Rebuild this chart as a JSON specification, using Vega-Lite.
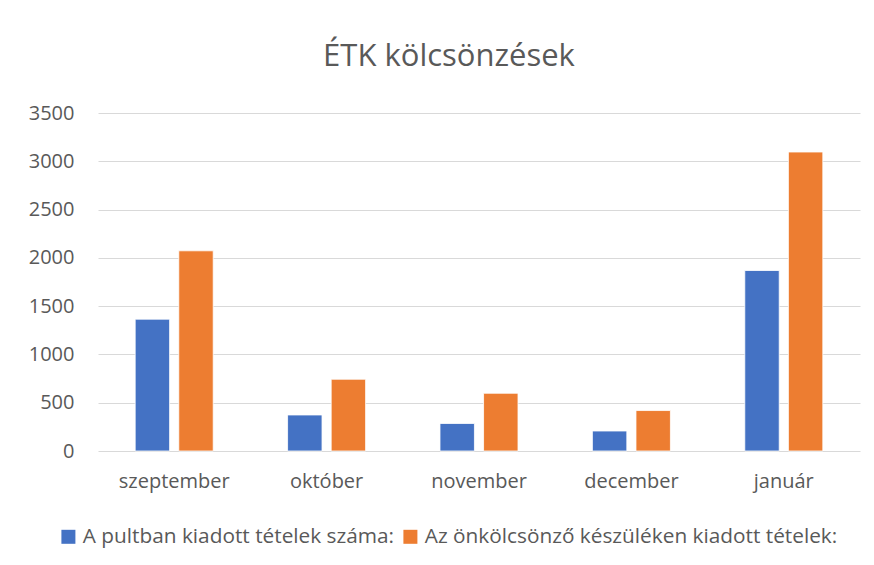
{
  "$schema": "https://vega.github.io/schema/vega-lite/v6.json",
  "width": 762,
  "height": 338,
  "autosize": {"type": "none"},
  "padding": {"left": 98, "top": 113, "right": 14, "bottom": 114},
  "background": "white",
  "title": {
    "text": "ÉTK kölcsönzések",
    "fontSize": 31,
    "font": "Open Sans",
    "fontWeight": "normal",
    "color": "#595959",
    "anchor": "middle",
    "dx": -30,
    "offset": 30
  },
  "data": {
    "values": [
      {"honap": "szeptember", "sorozat": "A pultban kiadott tételek száma:", "ertek": 1365},
      {"honap": "szeptember", "sorozat": "Az önkölcsönző készüléken kiadott tételek:", "ertek": 2073},
      {"honap": "október", "sorozat": "A pultban kiadott tételek száma:", "ertek": 373},
      {"honap": "október", "sorozat": "Az önkölcsönző készüléken kiadott tételek:", "ertek": 743},
      {"honap": "november", "sorozat": "A pultban kiadott tételek száma:", "ertek": 285},
      {"honap": "november", "sorozat": "Az önkölcsönző készüléken kiadott tételek:", "ertek": 598},
      {"honap": "december", "sorozat": "A pultban kiadott tételek száma:", "ertek": 207},
      {"honap": "december", "sorozat": "Az önkölcsönző készüléken kiadott tételek:", "ertek": 419},
      {"honap": "január", "sorozat": "A pultban kiadott tételek száma:", "ertek": 1869},
      {"honap": "január", "sorozat": "Az önkölcsönző készüléken kiadott tételek:", "ertek": 3096}
    ]
  },
  "mark": {"type": "bar", "stroke": "white", "strokeWidth": 0.8},
  "encoding": {
    "x": {
      "field": "honap",
      "type": "nominal",
      "sort": ["szeptember", "október", "november", "december", "január"],
      "scale": {"paddingInner": 0.488, "paddingOuter": 0.244},
      "axis": {
        "title": null,
        "labelAngle": 0,
        "labelFont": "Open Sans",
        "labelFontSize": 20,
        "labelColor": "#595959",
        "labelPadding": 20,
        "ticks": false,
        "domain": false
      }
    },
    "xOffset": {
      "field": "sorozat",
      "type": "nominal",
      "scale": {"paddingInner": 0.21, "paddingOuter": 0}
    },
    "y": {
      "field": "ertek",
      "type": "quantitative",
      "scale": {"domain": [0, 3500], "nice": false},
      "axis": {
        "title": null,
        "values": [0, 500, 1000, 1500, 2000, 2500, 3000, 3500],
        "format": "d",
        "labelFont": "Open Sans",
        "labelFontSize": 20,
        "labelColor": "#595959",
        "labelPadding": 24,
        "ticks": false,
        "domain": false,
        "grid": true,
        "gridColor": "#d9d9d9",
        "gridWidth": 1.2
      }
    },
    "color": {
      "field": "sorozat",
      "type": "nominal",
      "scale": {
        "domain": ["A pultban kiadott tételek száma:", "Az önkölcsönző készüléken kiadott tételek:"],
        "range": ["#4472C4", "#ED7D31"]
      },
      "legend": {
        "title": null,
        "orient": "none",
        "legendX": -40,
        "legendY": 413,
        "direction": "horizontal",
        "symbolType": "square",
        "symbolSize": 196,
        "symbolStrokeWidth": 0,
        "labelFont": "Open Sans",
        "labelFontSize": 20.8,
        "labelColor": "#595959",
        "labelOffset": 4,
        "columnPadding": 5,
        "labelLimit": 600
      }
    }
  },
  "config": {
    "view": {"stroke": null}
  }
}
